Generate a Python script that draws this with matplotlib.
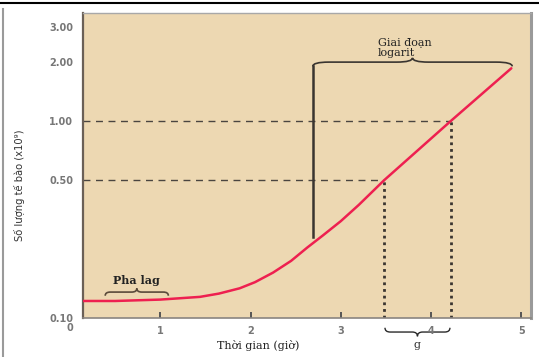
import numpy as np
import matplotlib
matplotlib.use("Agg")
import matplotlib.pyplot as plt
from matplotlib.path import Path
from matplotlib.patches import PathPatch
from matplotlib.lines import Line2D

# growth curve (time in hours, cells x10^9)
time_h = [0.0, 0.5, 1.0, 1.44, 1.65, 1.88, 2.05, 2.25, 2.45, 2.63, 2.8,
          3.0, 3.2, 3.48, 4.22, 4.89]
cells = [0.122, 0.122, 0.124, 0.128, 0.133, 0.1415, 0.152, 0.170, 0.195,
         0.228, 0.262, 0.310, 0.375, 0.5, 1.0, 1.85]

y_ticks = [0.10, 0.50, 1.00, 2.00, 3.00]
x_ticks = [1, 2, 3, 4, 5]

t_half = 3.48   # time where count = 0.5
t_one = 4.22    # time where count = 1.0
t_log_start = 2.69
t_log_end = 4.90

BG = "#EDD8B2"
RED = "#EE2050"
XLIM = (0.144, 5.108)
YLIM = (0.1, 3.53)


def brace(ax, x1, x2, y0, d, color="#3a3530", lw=1.3):
    # horizontal curly brace; x in data, y in axes fraction; d>0 tip up
    f = lambda x: (x - XLIM[0]) / (XLIM[1] - XLIM[0])
    a, b = f(x1), f(x2)
    m = (a + b) / 2
    w = (b - a) * 0.08
    verts = [(a, y0 - d), (a, y0), (a + w, y0),
             (m - w, y0),
             (m, y0), (m, y0 + d),
             (m, y0), (m + w, y0),
             (b - w, y0),
             (b, y0), (b, y0 - d)]
    codes = [Path.MOVETO, Path.CURVE3, Path.CURVE3,
             Path.LINETO,
             Path.CURVE3, Path.CURVE3,
             Path.CURVE3, Path.CURVE3,
             Path.LINETO,
             Path.CURVE3, Path.CURVE3]
    ax.add_patch(PathPatch(Path(verts, codes), fill=False, edgecolor=color,
                           lw=lw, transform=ax.transAxes, clip_on=False))


fig = plt.figure(figsize=(5.39, 3.57), dpi=100)
ax = fig.add_axes([83 / 539, 39 / 357, 448 / 539, 305 / 357])
ax.set_facecolor(BG)
ax.set_yscale("log")
ax.set_xlim(*XLIM)
ax.set_ylim(*YLIM)

ax.plot(time_h, cells, color=RED, lw=1.8, solid_capstyle="round",
        solid_joinstyle="round", zorder=4)

# guide lines
ax.plot([XLIM[0], t_one], [1.0, 1.0], color="#4a4540", lw=1.0, ls=(0, (5, 4)))
ax.plot([XLIM[0], t_half], [0.5, 0.5], color="#4a4540", lw=1.0, ls=(0, (5, 4)))
ax.plot([t_half, t_half], [0.1, 0.5], color="#3a3530", lw=2.0, ls=(0, (1, 1.4)))
ax.plot([t_one, t_one], [0.1, 1.0], color="#3a3530", lw=2.0, ls=(0, (1, 1.4)))
ax.plot([t_log_start, t_log_start], [0.258, 1.90], color="#3a3530", lw=1.8)

# braces and notes
brace(ax, t_log_start, t_log_end, 0.839, 0.014, lw=1.2)
brace(ax, 0.39, 1.09, 0.085, 0.012, color="#5a4a3a", lw=1.2)
brace(ax, 3.49, 4.21, -0.046, -0.014, color="#2a2a2a", lw=1.0)

serif = "DejaVu Serif"
ax.text(3.41, 0.852, "Giai đoạn\nlogarit", transform=ax.get_xaxis_transform(),
        family=serif, fontsize=8, color="#222", va="bottom", ha="left",
        linespacing=1.05)
ax.text(0.74, 0.105, "Pha lag", transform=ax.get_xaxis_transform(),
        family=serif, fontsize=8, fontweight="bold", color="#222",
        ha="center", va="bottom")
ax.text(3.85, -0.09, "g", transform=ax.get_xaxis_transform(),
        family=serif, fontsize=8, color="#333", ha="center", va="center")
ax.text(2.08, -0.09, "Thời gian (giờ)", transform=ax.get_xaxis_transform(),
        family=serif, fontsize=8, color="#222", ha="center", va="center")
fig.text(20 / 539, 1 - 185 / 357, "Số lượng tế bào (x10⁹)", rotation=90,
         family="DejaVu Sans Condensed", fontsize=7.2, color="#333",
         ha="center", va="center")

# ticks
ax.set_yticks(y_ticks)
ax.set_yticklabels(["%.2f" % v for v in y_ticks])
ax.minorticks_off()
ax.tick_params(axis="y", length=0, pad=7, labelsize=7, labelcolor="#777")
ax.set_xticks(x_ticks)
ax.tick_params(axis="x", direction="in", length=4, width=1.4, color="#555",
               pad=6, labelsize=7, labelcolor="#777")
for lab in ax.get_yticklabels() + ax.get_xticklabels():
    lab.set_fontweight("bold")
ax.text(0.0, -0.033, "0", transform=ax.get_xaxis_transform(), fontsize=7,
        color="#777", fontweight="bold", ha="center", va="center", clip_on=False)

for side, c, w in [("left", "#6b6057", 1.6), ("bottom", "#8a8580", 1.2),
                   ("right", "#9a9a9a", 2.2), ("top", "#a8a8a8", 1.0)]:
    ax.spines[side].set_color(c)
    ax.spines[side].set_linewidth(w)

# page frame
fig.add_artist(Line2D([0, 1], [1 - 3 / 357, 1 - 3 / 357], color="black", lw=1.5))
fig.add_artist(Line2D([3 / 539, 3 / 539], [0, 1 - 9 / 357], color="#9a9a9a", lw=1.5))

fig.savefig("out.png", dpi=100)
